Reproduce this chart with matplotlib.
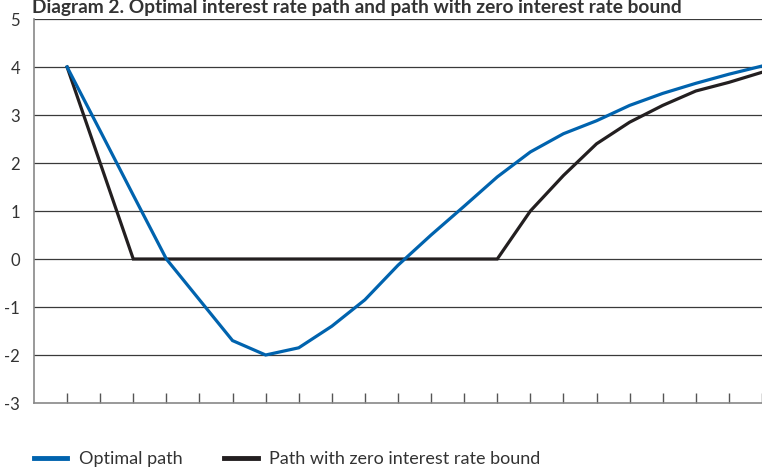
import matplotlib
matplotlib.use("Agg")
import matplotlib.pyplot as plt

# -- Daten --
periods = list(range(1, 23))
optimal_path = [4.0, 2.67, 1.33, 0.0, -0.85, -1.7, -2.0, -1.85, -1.4, -0.85, -0.13,
                0.5, 1.1, 1.71, 2.23, 2.61, 2.88, 3.2, 3.45, 3.66, 3.85, 4.02]
zero_bound_path = [4.0, 2.0, 0, 0, 0, 0, 0, 0, 0, 0, 0, 0, 0, 0,
                   1.0, 1.74, 2.4, 2.85, 3.2, 3.5, 3.68, 3.89]
y_ticks = [-3, -2, -1, 0, 1, 2, 3, 4, 5]

title = "Diagram 2. Optimal interest rate path and path with zero interest rate bound"
labels = ["Optimal path", "Path with zero interest rate bound"]
colors = ["#0063AE", "#231F20"]

plt.rcParams['font.family'] = ['Lato', 'DejaVu Sans']

fig = plt.figure(figsize=(7.62, 4.67), dpi=100)
ax = fig.add_axes([34 / 762, 1 - 403 / 467, 1 - 34 / 762, 384 / 467])

# -- Gitter --
for y in y_ticks[1:]:
    ax.axhline(y, color="#3a3a3a", linewidth=0.9, zorder=1)

ax.plot(periods, optimal_path, color=colors[0], linewidth=2.3, zorder=3,
        solid_joinstyle="miter", label=labels[0])
ax.plot(periods, zero_bound_path, color=colors[1], linewidth=2.3, zorder=2,
        solid_joinstyle="miter", label=labels[1])

ax.set_xlim(0, (762 - 34) / 33.5)
ax.set_ylim(-3, 5)
ax.set_yticks(y_ticks)
ax.set_yticklabels([str(v) for v in y_ticks])
ax.set_xticks(periods)
ax.set_xticklabels([])
ax.tick_params(axis="x", direction="in", length=7, width=1, color="#555555")
ax.tick_params(axis="y", length=0, pad=10, labelsize=12, labelcolor="#333333")

for side in ["top", "right"]:
    ax.spines[side].set_visible(False)
for side in ["left", "bottom"]:
    ax.spines[side].set_color("#888888")
    ax.spines[side].set_linewidth(1.2)

# Titel oben, knapp am Rand
fig.text(32 / 762, 1 - 8 / 467, title, fontsize=13.8, fontweight="bold",
         color="#333333", va="center", ha="left")

leg = fig.legend(loc="center left", bbox_to_anchor=(34 / 762, 1 - 459 / 467), ncol=2,
                 frameon=False, fontsize=13, handlelength=1.85, handletextpad=0.65,
                 columnspacing=2.3, labelcolor="#333333",
                 borderpad=0, borderaxespad=0)
for line in leg.get_lines():
    line.set_linewidth(3.5)

fig.savefig("out.png", dpi=100)
